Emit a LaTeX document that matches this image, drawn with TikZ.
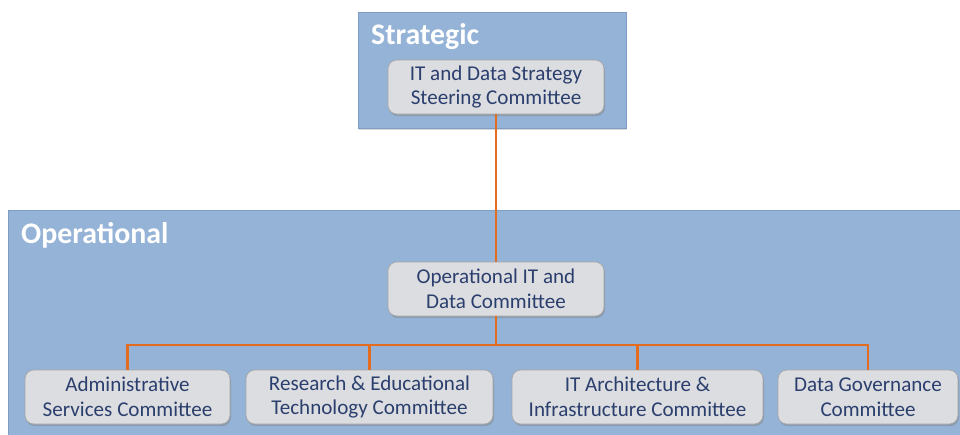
\documentclass[tikz,border=0pt]{standalone}
\usepackage{fontspec}
\setmainfont{Carlito}
\usetikzlibrary{shadows}
\definecolor{tierblue}{HTML}{95B3D7}
\definecolor{tierline}{HTML}{7F9CC4}
\definecolor{boxgray}{HTML}{DCDDE0}
\definecolor{boxtext}{HTML}{2B3F6E}
\definecolor{linkorange}{HTML}{E36C1E}
\tikzset{
	tier/.style={fill=tierblue, draw=tierline, drop shadow={opacity=0.3,shadow xshift=0.5pt,shadow yshift=-1pt}},
	committee/.style={rounded corners=5pt, fill=boxgray, draw=gray!70, text=boxtext, align=center, minimum height=1.08cm, inner sep=1pt, font=\fontsize{12}{14.2}\selectfont, drop shadow={opacity=0.45,shadow xshift=0.6pt,shadow yshift=-1.2pt}},
	link/.style={draw=linkorange, line width=1.6pt}
}
\begin{document}
\begin{tikzpicture}[x=0.02cm,y=-0.02cm]
			\clip (0,0) rectangle (960,434);
			\fill[white] (0,0) rectangle (960,434);
			% tiers
			\path[tier] (358,12) rectangle (626,128);
			\path[tier] (8,210) rectangle (975,445);
			\begin{scope}[every node/.style={anchor=west, text=white, font=\bfseries\fontsize{17}{20}\selectfont}]
				\node (strat) at (365,37) {Strategic};
				\node (oper) at (15,235) {Operational};
			\end{scope}
			% committees
			\node[committee, minimum width=4.32cm] (sc) at (496,87) {IT and Data Strategy\\Steering Committee};
			\node[committee, minimum width=4.32cm] (oc) at (496,289) {Operational IT and\\Data Committee};
			\node[committee, minimum width=4.1cm] (adm) at (127.5,397) {Administrative\\Services Committee};
			\node[committee, minimum width=4.94cm] (res) at (369.5,397) {Research \& Educational\\Technology Committee};
			\node[committee, minimum width=5.02cm] (arch) at (637.5,397) {IT Architecture \&\\Infrastructure Committee};
			\node[committee, minimum width=3.6cm] (gov) at (868,397) {Data Governance\\Committee};
			\coordinate (bus) at (496,345);
			\begin{scope}[every path/.style={link}]
				\path (sc) -- (oc);
				\path (oc) -- (bus);
				\path (bus) -| (adm);
				\path (bus) -| (res);
				\path (bus) -| (arch);
				\path (bus) -| (gov);
			\end{scope}
		\end{tikzpicture}
\end{document}
